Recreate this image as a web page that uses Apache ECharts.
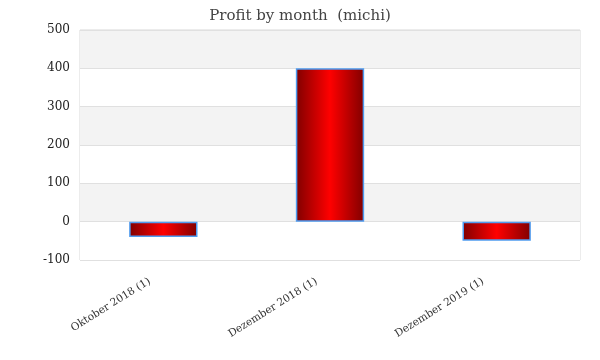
<!DOCTYPE html>
<html><head><meta charset="utf-8">
<script src="https://cdn.jsdelivr.net/npm/echarts@6/dist/echarts.min.js"></script>
<style>html,body{margin:0;padding:0;background:#fff}#c{width:600px;height:360px}</style>
</head><body><div id="c"></div>
<script>
const categories = ['Oktober 2018 (1)', 'Dezember 2018 (1)', 'Dezember 2019 (1)'];
const profit = [-40, 400, -50];
const titleText = 'Profit by month  (michi)';

const chart = echarts.init(document.getElementById('c'), null, {renderer: 'canvas'});
const font = 'Georgia, "DejaVu Serif", serif';
chart.setOption({
  animation: false,
  title: {text: titleText, left: 'center', top: 4,
    textStyle: {fontFamily: font, fontWeight: 'normal', fontSize: 15, color: '#444'}},
  grid: {left: 80, right: 20, top: 30, bottom: 100, show: true, borderColor: '#d9d9d9', borderWidth: 1},
  xAxis: {type: 'category', data: categories,
    axisLine: {show: false}, axisTick: {show: false},
    axisLabel: {rotate: 32, fontFamily: font, fontSize: 10.5, color: '#333', margin: 12,
      padding: [0, 16, 0, 0]}},
  yAxis: {type: 'value', min: -100, max: 500, interval: 100,
    axisLine: {show: false}, axisTick: {show: false},
    axisLabel: {fontFamily: font, fontSize: 12, color: '#222', margin: 10},
    splitLine: {lineStyle: {color: '#e0e0e0'}},
    splitArea: {show: true, areaStyle: {color: ['#ffffff', '#f3f3f3']}}},
  series: [{type: 'bar', data: profit, barWidth: '41%',
    itemStyle: {
      borderColor: '#4f9cf0', borderWidth: 1.5,
      color: new echarts.graphic.LinearGradient(0, 0, 1, 0, [
        {offset: 0, color: '#800000'},
        {offset: 0.5, color: '#ff0000'},
        {offset: 1, color: '#800000'}])}}]
});
</script></body></html>
